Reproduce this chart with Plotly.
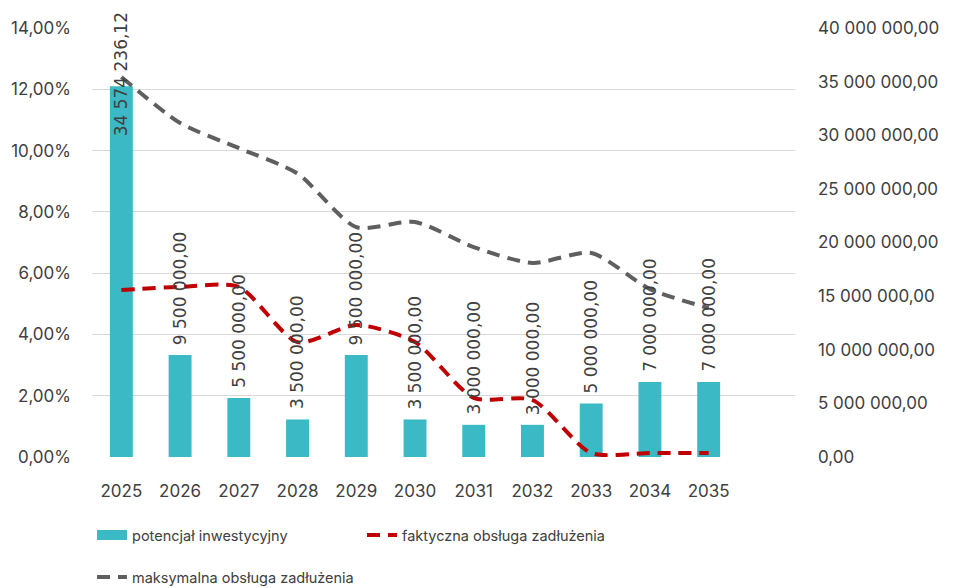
import plotly.graph_objects as go

# --- data -------------------------------------------------------------
years = ["2025", "2026", "2027", "2028", "2029", "2030",
         "2031", "2032", "2033", "2034", "2035"]

# investment potential (PLN), right axis
potencjal = [34574236.12, 9500000, 5500000, 3500000, 9500000, 3500000,
             3000000, 3000000, 5000000, 7000000, 7000000]

# actual and maximum debt service ratio (%), left axis
faktyczna = [5.45, 5.55, 5.55, 3.75, 4.31, 3.75, 1.93, 1.86, 0.13, 0.13, 0.13]
maksymalna = [12.4, 10.9, 10.08, 9.25, 7.5, 7.67, 6.85, 6.33, 6.66, 5.48, 4.86]

pct_ticks = [0, 2, 4, 6, 8, 10, 12, 14]
pln_ticks = [0, 5e6, 10e6, 15e6, 20e6, 25e6, 30e6, 35e6, 40e6]


def fmt_pl(v):
    """Polish number format: space thousands separator, comma decimals."""
    return f"{v:,.2f}".replace(",", " ").replace(".", ",")


TEAL = "#3bb9c4"
RED = "#c00000"
GREY = "#5f5f5f"
TXT = "#404040"
TICK_FONT = dict(family="Inter, Open Sans, sans-serif", size=17, color=TXT)
LEGEND_FONT = dict(family="Inter, Open Sans, sans-serif", size=14.5, color=TXT)
LABEL_FONT = dict(family="DejaVu Sans, sans-serif", size=17, color=TXT)

fig = go.Figure()

# bars on the main (right-side) axis
fig.add_trace(go.Bar(
    x=years, y=potencjal, yaxis="y",
    marker=dict(color=TEAL, line=dict(width=0)),
    width=0.39, showlegend=False, legendgroup="pot",
    hoverinfo="x+y",
))

# legend swatch for the bars (wide block like the spreadsheet legend)
fig.add_trace(go.Scatter(
    x=[None], y=[None], mode="lines", yaxis="y",
    line=dict(color=TEAL, width=12),
    name="potencjał inwestycyjny", legendgroup="pot", legend="legend",
))

# debt service lines on the overlaying (left-side) percent axis
fig.add_trace(go.Scatter(
    x=years, y=faktyczna, yaxis="y2", mode="lines",
    line=dict(color=RED, width=4, dash="13px,8px", shape="spline", smoothing=0.7),
    name="faktyczna obsługa zadłużenia", legend="legend",
))
fig.add_trace(go.Scatter(
    x=years, y=maksymalna, yaxis="y2", mode="lines",
    line=dict(color=GREY, width=4, dash="13px,8px", shape="spline", smoothing=0.7),
    name="maksymalna obsługa zadłużenia", legend="legend2",
))

# rotated value labels above the bars (x given as category index)
y_max = pln_ticks[-1]
annotations = []
for i, v in enumerate(potencjal):
    if v > 0.8 * y_max:
        # no room above: pin the label to the top of the chart
        annotations.append(dict(
            x=i, y=1, xref="x", yref="paper", yanchor="top", yshift=18,
            text=fmt_pl(v), textangle=-90, showarrow=False, font=LABEL_FONT,
        ))
    else:
        annotations.append(dict(
            x=i, y=v, xref="x", yref="y", yanchor="bottom", yshift=8,
            text=fmt_pl(v), textangle=-90, showarrow=False, font=LABEL_FONT,
        ))

fig.update_layout(
    width=953, height=588,
    margin=dict(l=92, r=158, t=28, b=131, autoexpand=False),
    paper_bgcolor="white", plot_bgcolor="white",
    xaxis=dict(
        type="category", range=[-0.5, 11.47],
        showgrid=False, zeroline=False, showline=False, ticks="",
        tickfont=TICK_FONT, ticklabelstandoff=22,
    ),
    yaxis=dict(
        side="right", range=[0, y_max],
        tickvals=pln_ticks, ticktext=[fmt_pl(t) for t in pln_ticks],
        showgrid=False, zeroline=False, showline=False, ticks="",
        tickfont=TICK_FONT, ticklabelstandoff=22,
    ),
    yaxis2=dict(
        side="left", overlaying="y", range=[0, 14],
        tickvals=pct_ticks, ticktext=[fmt_pl(t) + "%" for t in pct_ticks],
        showgrid=True, gridcolor="#d9d9d9", gridwidth=1,
        zeroline=False, showline=False, ticks="",
        tickfont=TICK_FONT, ticklabelstandoff=20,
    ),
    legend=dict(
        orientation="h", x=0, xanchor="left", y=-0.182, yanchor="middle",
        font=LEGEND_FONT, entrywidth=225, entrywidthmode="pixels",
        bgcolor="rgba(0,0,0,0)", itemclick=False, itemdoubleclick=False,
    ),
    legend2=dict(
        orientation="h", x=0, xanchor="left", y=-0.28, yanchor="middle",
        font=LEGEND_FONT, bgcolor="rgba(0,0,0,0)",
        itemclick=False, itemdoubleclick=False,
    ),
    annotations=annotations,
    showlegend=True,
)

fig.write_html("out.html")
